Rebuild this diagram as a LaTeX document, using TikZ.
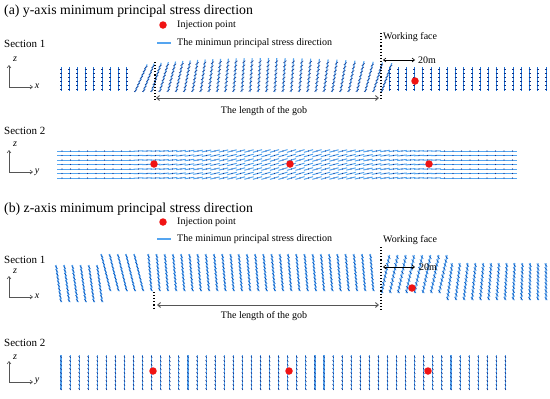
\documentclass[tikz,border=0pt]{standalone}
\usepackage{fontspec}
\setmainfont{Liberation Serif}
\usetikzlibrary{arrows.meta}
\definecolor{lblue}{RGB}{85,165,240}
\definecolor{mblue}{RGB}{30,115,215}
\definecolor{dblue}{RGB}{15,45,130}
\definecolor{axgray}{RGB}{85,85,85}
\definecolor{dotred}{RGB}{240,20,20}
\begin{document}
\begin{tikzpicture}[x=1pt,y=-1pt,
  title/.style={anchor=west,font=\fontsize{13.8}{15}\selectfont,inner sep=0pt},
  lab/.style={anchor=west,font=\fontsize{10}{11}\selectfont,inner sep=0pt},
  sec/.style={anchor=west,font=\fontsize{11}{13}\selectfont,inner sep=0pt},
  wlab/.style={anchor=west,font=\fontsize{10}{12}\selectfont,inner sep=0pt},
  axlab/.style={font=\fontsize{10}{12}\selectfont\itshape,inner sep=0pt},
  axarrow/.style={axgray,line width=0.6pt,-{Straight Barb[length=2.5pt,width=4pt]}},
  dimarrow/.style={axgray,line width=0.9pt,{Straight Barb[length=3pt,width=5pt]}-{Straight Barb[length=3pt,width=5pt]}},
  shortdim/.style={black,line width=0.6pt,{Straight Barb[length=2.5pt,width=4pt]}-{Straight Barb[length=2.5pt,width=4pt]}},
  wface/.style={black,dotted,line width=1.1pt},
  inj/.style={circle,fill=dotred,inner sep=0pt,minimum size=7.5pt},
  legline/.style={lblue,line width=1.6pt}]
\useasboundingbox (0,0) rectangle (550,399);
\fill[white] (0,0) rectangle (550,399);

% ---------------- (a) Section 1 field ----------------
\foreach \i in {0,...,59}{
  \pgfmathsetmacro\xx{61+8.22*\i}
  \def\isgob{0}
  \ifdim\xx pt>128pt \ifdim\xx pt<384pt \def\isgob{1}\fi\fi
  \ifnum\isgob=1
    \pgfmathsetmacro\qq{((\xx-265)/115)^2}
    \pgfmathsetmacro\ytop{58+5*\qq}
    \def\ybot{92}
    \pgfmathsetmacro\lean{2+8*\qq}
    \pgfmathsetmacro\xt{\xx+\lean}
    \draw[lblue,line width=1.1pt] (\xx,\ybot) -- (\xt,\ytop);
    \foreach \fr in {0.05,0.17,0.29,0.41,0.53,0.65,0.77,0.89}{
      \pgfmathsetmacro\pxx{\xx+\lean*\fr}
      \pgfmathsetmacro\pyy{\ybot+(\ytop-\ybot)*\fr}
      \draw[dblue,line width=0.5pt] (\pxx-1.5,\pyy+1.2) -- (\pxx+1.5,\pyy-1.2);
    }
  \else
    \foreach \yy in {69,73,77,81,85,89}{
      \draw[mblue,line width=0.8pt] (\xx,\yy-1.6) -- (\xx,\yy+1.6);
      \draw[dblue,line width=0.45pt] (\xx-1,\yy) -- (\xx+1,\yy);
    }
  \fi
}

% ---------------- (a) Section 2 field ----------------
\foreach \r in {0,...,6}{
  \pgfmathsetmacro\yy{151+4.5*\r}
  \foreach \j in {0,...,53}{
    \pgfmathsetmacro\xx{62+8.5*\j}
    \def\ang{0}
    \ifdim\xx pt>135pt \ifdim\xx pt<440pt \pgfmathsetmacro\ang{17*sin((\xx-135)*0.5902)}\fi\fi
    \pgfmathsetmacro\ddx{4.8*cos(\ang)}
    \pgfmathsetmacro\ddy{4.8*sin(\ang)}
    \draw[lblue,line width=1pt] (\xx-\ddx,\yy+\ddy) -- (\xx+\ddx,\yy-\ddy);
    \fill[dblue] (\xx,\yy) circle (0.6);
  }
}

% ---------------- (b) Section 1 field ----------------
\foreach \i in {0,...,59}{
  \pgfmathsetmacro\xx{61+8.22*\i}
  \ifdim\xx pt<106pt \def\ytop{265}\def\ybot{302}\def\lean{-5}%
  \else\ifdim\xx pt<150pt \def\ytop{254}\def\ybot{291}\def\lean{-9}%
  \else\ifdim\xx pt<380pt \def\ytop{254}\def\ybot{291}\def\lean{-3}%
  \else\ifdim\xx pt<440pt \def\ytop{255}\def\ybot{293}\def\lean{8}%
  \else \def\ytop{263}\def\ybot{300}\pgfmathsetmacro\lean{(545-\xx)*0.05}%
  \fi\fi\fi\fi
  \pgfmathsetmacro\xt{\xx+\lean}
  \draw[lblue,line width=1.2pt] (\xx,\ybot) -- (\xt,\ytop);
  \foreach \fr in {0.04,0.14,0.24,0.34,0.44,0.54,0.64,0.74,0.84,0.94}{
    \pgfmathsetmacro\pxx{\xx+\lean*\fr}
    \pgfmathsetmacro\pyy{\ybot+(\ytop-\ybot)*\fr}
    \draw[mblue,line width=0.6pt] (\pxx-1.3,\pyy-1.6) -- (\pxx+1.3,\pyy+1.6);
    \fill[dblue] (\pxx,\pyy) circle (0.45);
  }
}

% ---------------- (b) Section 2 field ----------------
\foreach \i in {0,...,49}{
  \pgfmathsetmacro\xx{61+9.07*\i}
  \draw[lblue,line width=1.1pt] (\xx,355) -- (\xx,390);
  \foreach \yy in {357,361,365,369,373,377,381,385,389}{
    \draw[dblue,line width=0.6pt] (\xx-0.5,\yy-1) -- (\xx+0.5,\yy+1);
  }
}

% ================= Panel (a) =================
\node[title] (ta) at (4,11) {(a) y-axis minimum principal stress direction};
\node[inj] (la1) at (163,25) {};
\node[lab] (la1t) at (177,25) {Injection point};
\coordinate (la2a) at (157,43);
\coordinate (la2b) at (171,43);
\draw[legline] (la2a) -- (la2b);
\node[lab] (la2t) at (177,43) {The minimun principal stress direction};

\node[sec] (sa1) at (4,44) {Section 1};
\coordinate (oa1) at (9,87);
\coordinate (za1) at (9,65);
\coordinate (xa1) at (33,87);
\draw[axarrow] (oa1) -- (za1);
\draw[axarrow] (oa1) -- (xa1);
\node[axlab] (za1l) at (15,59) {z};
\node[axlab] (xa1l) at (37,86) {x};

\coordinate (wa1) at (381,33);
\coordinate (wa2) at (381,100);
\draw[wface] (wa1) -- (wa2);
\node[wlab] (wfa) at (383,37) {Working face};
\coordinate (da1) at (383,60);
\coordinate (da2) at (415,60);
\draw[shortdim] (da1) -- (da2);
\node[wlab] (d20a) at (418,60) {20m};
\node[inj] (ia1) at (415,81) {};

\coordinate (ga0) at (155,62);
\coordinate (ga00) at (155,100);
\draw[wface] (ga0) -- (ga00);
\coordinate (ga1) at (156,98);
\coordinate (ga2) at (379,98);
\draw[dimarrow] (ga1) -- (ga2);
\node[lab,anchor=center] (gla) at (264,111) {The length of the gob};

\node[sec] (sa2) at (4,131) {Section 2};
\coordinate (oa2) at (9,172);
\coordinate (za2) at (9,150);
\coordinate (ya2) at (33,172);
\draw[axarrow] (oa2) -- (za2);
\draw[axarrow] (oa2) -- (ya2);
\node[axlab] (za2l) at (15,144) {z};
\node[axlab] (ya2l) at (37,172) {y};
\node[inj] (ia2) at (154,164) {};
\node[inj] (ia3) at (290,164) {};
\node[inj] (ia4) at (429,164) {};

% ================= Panel (b) =================
\node[title] (tb) at (4,209) {(b) z-axis minimum principal stress direction};
\node[inj] (lb1) at (163,222) {};
\node[lab] (lb1t) at (177,222.5) {Injection point};
\coordinate (lb2a) at (157,239);
\coordinate (lb2b) at (171,239);
\draw[legline] (lb2a) -- (lb2b);
\node[lab] (lb2t) at (177,239) {The minimun principal stress direction};

\node[sec] (sb1) at (4,260) {Section 1};
\coordinate (ob1) at (9,297);
\coordinate (zb1) at (9,276);
\coordinate (xb1) at (33,297);
\draw[axarrow] (ob1) -- (zb1);
\draw[axarrow] (ob1) -- (xb1);
\node[axlab] (zb1l) at (15,271) {z};
\node[axlab] (xb1l) at (37,296) {x};

\coordinate (wb1) at (381,247);
\coordinate (wb2) at (381,310);
\draw[wface] (wb1) -- (wb2);
\node[wlab] (wfb) at (383,240) {Working face};
\coordinate (db1) at (383,267);
\coordinate (db2) at (415,267);
\draw[shortdim] (db1) -- (db2);
\node[wlab] (d20b) at (419,267) {20m};
\node[inj] (ib1) at (412,288) {};

\coordinate (gb0) at (154,292);
\coordinate (gb00) at (154,310);
\draw[wface] (gb0) -- (gb00);
\coordinate (gb1) at (157,305);
\coordinate (gb2) at (379,305);
\draw[dimarrow] (gb1) -- (gb2);
\node[lab,anchor=center] (glb) at (264,316) {The length of the gob};

\node[sec] (sb2) at (4,343) {Section 2};
\coordinate (ob2) at (9,382);
\coordinate (zb2) at (9,361);
\coordinate (yb2) at (33,382);
\draw[axarrow] (ob2) -- (zb2);
\draw[axarrow] (ob2) -- (yb2);
\node[axlab] (zb2l) at (15,357) {z};
\node[axlab] (yb2l) at (37,381) {y};
\node[inj] (ib2) at (153,371) {};
\node[inj] (ib3) at (289,371) {};
\node[inj] (ib4) at (428,371) {};
\end{tikzpicture}
\end{document}
